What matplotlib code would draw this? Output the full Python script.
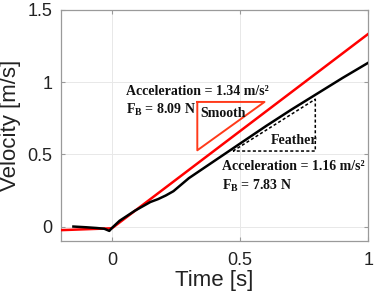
import matplotlib
matplotlib.use("Agg")
import matplotlib.pyplot as plt

# velocity traces
t_smooth = [-0.2, 0.0, 1.0]
v_smooth = [-0.025, -0.012, 1.335]

t_feather = [-0.15, -0.10, -0.06, -0.03, -0.01, 0.0, 0.03, 0.06, 0.09, 0.12,
             0.15, 0.18, 0.21, 0.24, 0.27, 0.30, 0.40, 0.50, 0.60, 0.70,
             0.80, 0.90, 1.00]
v_feather = [0.0, -0.005, -0.01, -0.015, -0.03, -0.01, 0.04, 0.075, 0.11, 0.14,
             0.17, 0.19, 0.215, 0.245, 0.29, 0.335, 0.455, 0.575, 0.695, 0.81,
             0.92, 1.03, 1.135]

# slope triangles (corner points in data units)
tri_smooth_t = [0.333, 0.595, 0.333, 0.333]
tri_smooth_v = [0.863, 0.863, 0.528, 0.863]
tri_feather_t = [0.472, 0.793, 0.793, 0.472]
tri_feather_v = [0.523, 0.882, 0.523, 0.523]

xticks = [0, 0.5, 1]
xticklabels = ["0", "0.5", "1"]
yticks = [0, 0.5, 1, 1.5]
yticklabels = ["0", "0.5", "1", "1.5"]

axis_gray = "#9a9a9a"
red = "#ff0000"
tri_red = "#ff3a1a"

fig = plt.figure(figsize=(3.74, 2.93), dpi=100)
ax = fig.add_axes([0.162, 0.1775, 0.823, 0.7885])

ax.plot(t_smooth, v_smooth, color=red, lw=1.8, zorder=3)
ax.plot(t_feather, v_feather, color="black", lw=1.8, zorder=3)
ax.plot(tri_smooth_t, tri_smooth_v, color=tri_red, lw=1.4, zorder=2)
ax.plot(tri_feather_t, tri_feather_v, color="black", lw=1.1,
        linestyle=(0, (2, 1.5)), zorder=2)

ax.set_xlim(-0.2, 1.0)
ax.set_ylim(-0.1, 1.5)
ax.set_xticks(xticks)
ax.set_xticklabels(xticklabels)
ax.set_yticks(yticks)
ax.set_yticklabels(yticklabels)

ax.grid(True, color="#e8e8e8", lw=0.7)
ax.set_axisbelow(True)
for s in ax.spines.values():
    s.set_color(axis_gray)
    s.set_linewidth(0.9)
ax.tick_params(direction="in", length=3, color=axis_gray, top=True, right=True,
               labelsize=13, labelcolor="#222222")
ax.tick_params(axis="x", pad=8)
ax.tick_params(axis="y", pad=6)
for lab in ax.get_xticklabels() + ax.get_yticklabels():
    lab.set_family("Liberation Sans")

ax.set_xlabel("Time [s]", fontsize=16, family="Liberation Sans", color="#222222")
ax.set_ylabel("Velocity [m/s]", fontsize=16, family="Liberation Sans", color="#222222")
ax.xaxis.set_label_coords(0.5, -0.125)
ax.yaxis.set_label_coords(-0.13, 0.5)

tkw = dict(family="Liberation Serif", weight="bold", fontsize=10, color="#111111",
           va="center", ha="left")
ax.text(0.055, 0.935, "Acceleration = 1.34 m/s\u00b2", **tkw)
ax.text(0.055, 0.81, r"F$_\mathregular{B}$ = 8.09 N", **tkw)
ax.text(0.345, 0.785, "Smooth", **tkw)
ax.text(0.62, 0.595, "Feather", **tkw)
ax.text(0.43, 0.415, "Acceleration = 1.16 m/s\u00b2", **tkw)
ax.text(0.43, 0.285, r"F$_\mathregular{B}$ = 7.83 N", **tkw)

fig.savefig("out.png", dpi=100)
